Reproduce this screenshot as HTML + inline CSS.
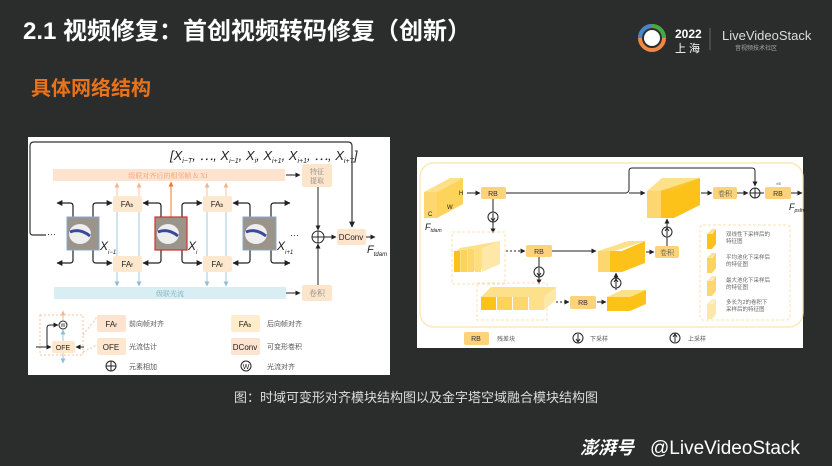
<!DOCTYPE html>
<html><head><meta charset="utf-8"><style>
html,body{margin:0;padding:0;background:#2b2c2c;}
svg{display:block}
text{font-family:"Liberation Sans","Noto Sans CJK SC",sans-serif;}
.cj{font-family:"Noto Serif CJK SC","Noto Sans CJK SC",serif;}
</style></head><body>
<svg width="832" height="466" viewBox="0 0 832 466" xmlns="http://www.w3.org/2000/svg">
<defs>
<marker id="a" viewBox="0 0 10 10" refX="9" refY="5" markerWidth="5" markerHeight="5" orient="auto"><path d="M0,0L10,5L0,10z" fill="#222"/></marker>
<marker id="ao" viewBox="0 0 10 10" refX="9" refY="5" markerWidth="5" markerHeight="5" orient="auto"><path d="M0,0L10,5L0,10z" fill="#f8b48c"/></marker>
<marker id="ao2" viewBox="0 0 10 10" refX="9" refY="5" markerWidth="5" markerHeight="5" orient="auto"><path d="M0,0L10,5L0,10z" fill="#ee7a2a"/></marker>
<marker id="ab" viewBox="0 0 10 10" refX="9" refY="5" markerWidth="5" markerHeight="5" orient="auto"><path d="M0,0L10,5L0,10z" fill="#8cc0d8"/></marker>
</defs>
<rect width="832" height="466" fill="#2b2c2c"/>
<text x="23" y="39" font-size="24" font-weight="bold" fill="#fff">2.1 视频修复：首创视频转码修复（创新）</text>
<text x="31" y="95" font-size="20" font-weight="bold" fill="#e8731a">具体网络结构</text>
<!-- logo -->
<circle cx="652" cy="38" r="12" fill="none" stroke="#e84" stroke-width="4"/>
<path d="M652,26 A12,12 0 0 1 664,38" fill="none" stroke="#4a4" stroke-width="4"/>
<path d="M640,38 A12,12 0 0 1 652,26" fill="none" stroke="#48c" stroke-width="4"/>
<circle cx="652" cy="38" r="8" fill="#fff"/>
<text x="675" y="38" font-size="12" font-weight="bold" fill="#fff">2022</text>
<text x="675" y="52" font-size="11" fill="#fff">上 海</text>
<line x1="710" y1="28" x2="710" y2="50" stroke="#666"/>
<text x="722" y="40" font-size="13" fill="#ddd">LiveVideoStack</text>
<text x="735" y="50" font-size="6" fill="#aaa">音视频技术社区</text>

<!-- LEFT PANEL -->
<rect x="28" y="137" width="362" height="238" fill="#fff"/>
<path d="M46,235 L33,235 Q30,235 30,232 L30,146 Q30,142 34,142 L348,142 Q352,142 352,146 L352,227" fill="none" stroke="#333" stroke-width="1.2" marker-end="url(#a)"/>
<text x="170" y="160" font-size="13" font-style="italic" fill="#222" font-family="Liberation Serif,serif">[X<tspan font-size="7" dy="3">i−T</tspan><tspan dy="-3">, ⋯, X</tspan><tspan font-size="7" dy="3">i−1</tspan><tspan dy="-3">, X</tspan><tspan font-size="7" dy="3">i</tspan><tspan dy="-3">, X</tspan><tspan font-size="7" dy="3">i+1</tspan><tspan dy="-3">, X</tspan><tspan font-size="7" dy="3">i+1</tspan><tspan dy="-3">, ⋯, X</tspan><tspan font-size="7" dy="3">i+T</tspan><tspan dy="-3">]</tspan></text>
<rect x="53" y="169" width="232" height="12" fill="#fde3d0"/>
<text x="168" y="178" font-size="7" fill="#f0a070" text-anchor="middle" class="cj">级联对齐后的相邻帧 &amp; Xi</text>
<line x1="286" y1="175" x2="300" y2="175" stroke="#222" marker-end="url(#a)"/>
<rect x="302" y="164" width="30" height="23" rx="2" fill="#fde5cc"/>
<text x="317" y="174" font-size="7" fill="#888" text-anchor="middle" class="cj">特征</text>
<text x="317" y="183" font-size="7" fill="#888" text-anchor="middle" class="cj">提取</text>
<line x1="318" y1="187" x2="318" y2="230" stroke="#222" marker-end="url(#a)"/>
<rect x="54" y="287" width="232" height="12" fill="#d8eef3"/>
<text x="170" y="296" font-size="7" fill="#7ab" text-anchor="middle" class="cj">级联光流</text>
<line x1="286" y1="293" x2="300" y2="293" stroke="#222" marker-end="url(#a)"/>
<rect x="302" y="285" width="30" height="16" rx="2" fill="#fde5cc"/>
<text x="317" y="296" font-size="8" fill="#888" text-anchor="middle" class="cj">卷积</text>
<line x1="318" y1="285" x2="318" y2="244" stroke="#222" marker-end="url(#a)"/>
<circle cx="318" cy="237" r="6" fill="#fff" stroke="#222"/>
<path d="M312,237h12M318,231v12" stroke="#222"/>
<line x1="324" y1="237" x2="336" y2="237" stroke="#222" marker-end="url(#a)"/>
<rect x="337" y="229" width="29" height="16" rx="2" fill="#fde5cc"/>
<text x="351" y="240" font-size="8" fill="#222" text-anchor="middle">DConv</text>
<line x1="366" y1="237" x2="375" y2="237" stroke="#222" marker-end="url(#a)"/>
<text x="367" y="253" font-size="11" font-style="italic" fill="#222" font-family="Liberation Serif,serif">F<tspan font-size="6" dy="3">tdam</tspan></text>
<g stroke-width="1">
<line x1="117" y1="256" x2="117" y2="183" stroke="#f8c0a0" marker-end="url(#ao)"/>
<line x1="139" y1="256" x2="139" y2="183" stroke="#f8c0a0" marker-end="url(#ao)"/>
<line x1="207" y1="256" x2="207" y2="183" stroke="#f8c0a0" marker-end="url(#ao)"/>
<line x1="226" y1="256" x2="226" y2="183" stroke="#f8c0a0" marker-end="url(#ao)"/>
<line x1="171" y1="217" x2="171" y2="182" stroke="#ee7a2a" marker-end="url(#ao2)"/>
<line x1="117" y1="212" x2="117" y2="286" stroke="#9cc8dc" marker-end="url(#ab)"/>
<line x1="139" y1="212" x2="139" y2="286" stroke="#9cc8dc" marker-end="url(#ab)"/>
<line x1="207" y1="212" x2="207" y2="286" stroke="#9cc8dc" marker-end="url(#ab)"/>
<line x1="226" y1="212" x2="226" y2="286" stroke="#9cc8dc" marker-end="url(#ab)"/>
</g>
<g fill="#fde8cf">
<rect x="113" y="196" width="29" height="16" rx="2"/><rect x="203" y="196" width="29" height="16" rx="2"/>
<rect x="113" y="256" width="29" height="16" rx="2"/><rect x="203" y="256" width="29" height="16" rx="2"/>
</g>
<g font-size="8" fill="#222" text-anchor="middle">
<text x="127" y="207">FA<tspan font-size="5">b</tspan></text><text x="217" y="207">FA<tspan font-size="5">b</tspan></text>
<text x="127" y="267">FA<tspan font-size="5">f</tspan></text><text x="217" y="267">FA<tspan font-size="5">f</tspan></text>
</g>
<g fill="none" stroke="#222" stroke-width="1.2">
<path d="M73,217 V206 Q73,203 70,203 H57" marker-end="url(#a)"/>
<path d="M93,217 V206 Q93,203 96,203 H112" marker-end="url(#a)"/>
<path d="M161,217 V206 Q161,203 158,203 H143" marker-end="url(#a)"/>
<path d="M182,217 V206 Q182,203 185,203 H202" marker-end="url(#a)"/>
<path d="M250,217 V206 Q250,203 247,203 H233" marker-end="url(#a)"/>
<path d="M271,217 V206 Q271,203 274,203 H290" marker-end="url(#a)"/>
<path d="M73,250 V260 Q73,263 70,263 H57" marker-end="url(#a)"/>
<path d="M93,250 V260 Q93,263 96,263 H112" marker-end="url(#a)"/>
<path d="M161,250 V260 Q161,263 158,263 H143" marker-end="url(#a)"/>
<path d="M182,250 V260 Q182,263 185,263 H202" marker-end="url(#a)"/>
<path d="M250,250 V260 Q250,263 247,263 H233" marker-end="url(#a)"/>
<path d="M271,250 V260 Q271,263 274,263 H290" marker-end="url(#a)"/>
</g>
<g>
<rect x="67" y="217" width="32" height="33" fill="#9a948a" stroke="#8aa8d0"/>
<ellipse cx="80" cy="234" rx="11" ry="10" fill="#eee"/><path d="M70,232 Q80,228 90,236" stroke="#3a4a9a" stroke-width="3" fill="none"/>
<rect x="155" y="217" width="32" height="33" fill="#9a948a" stroke="#c33" stroke-width="1.2"/>
<ellipse cx="168" cy="234" rx="11" ry="10" fill="#eee"/><path d="M158,232 Q168,228 178,236" stroke="#3a4a9a" stroke-width="3" fill="none"/>
<rect x="243" y="217" width="33" height="33" fill="#9a948a" stroke="#8aa8d0"/>
<ellipse cx="256" cy="234" rx="11" ry="10" fill="#eee"/><path d="M246,232 Q256,228 266,236" stroke="#3a4a9a" stroke-width="3" fill="none"/>
</g>
<g font-size="12" font-style="italic" fill="#222" font-family="Liberation Serif,serif">
<text x="100" y="250">X<tspan font-size="6" dy="4">i−1</tspan></text>
<text x="188" y="250">X<tspan font-size="6" dy="4">i</tspan></text>
<text x="277" y="250">X<tspan font-size="6" dy="4">i+1</tspan></text>
</g>
<text x="47" y="237" font-size="9" fill="#222">···</text>
<text x="290" y="238" font-size="9" fill="#222">···</text>
<rect x="40" y="315" width="43" height="40" fill="none" stroke="#f8c0a0" stroke-dasharray="2,2"/>
<line x1="63" y1="320" x2="63" y2="311" stroke="#f8b48c" marker-end="url(#ao)"/>
<circle cx="63" cy="325" r="4" fill="#fff" stroke="#222"/><text x="63" y="327" font-size="5" text-anchor="middle" fill="#222">W</text>
<line x1="63" y1="341" x2="63" y2="330" stroke="#9cc8dc" marker-end="url(#ab)"/>
<line x1="63" y1="353" x2="63" y2="363" stroke="#9cc8dc" marker-end="url(#ab)"/>
<path d="M47,347 V328 Q47,325 50,325 H58" fill="none" stroke="#222" marker-end="url(#a)"/>
<line x1="36" y1="347" x2="51" y2="347" stroke="#222" marker-end="url(#a)"/>
<line x1="84" y1="347" x2="76" y2="347" stroke="#222" marker-end="url(#a)"/>
<rect x="52" y="341" width="23" height="12" rx="2" fill="#fde8cf"/>
<text x="63" y="350" font-size="7" text-anchor="middle" fill="#222">OFE</text>
<path d="M83,335 L97,317 M83,352 L97,345" stroke="#f8c0a0" stroke-dasharray="2,2"/>
<rect x="97" y="315" width="29" height="17" rx="2" fill="#fde3d0"/><text x="111" y="327" font-size="8" text-anchor="middle" fill="#222">FA<tspan font-size="5">f</tspan></text>
<rect x="97" y="338" width="29" height="17" rx="2" fill="#fde8cf"/><text x="111" y="350" font-size="8" text-anchor="middle" fill="#222">OFE</text>
<circle cx="111" cy="366" r="5" fill="#fff" stroke="#222"/><path d="M106,366h10M111,361v10" stroke="#222"/>
<rect x="231" y="315" width="29" height="17" rx="2" fill="#fdedc8"/><text x="245" y="327" font-size="8" text-anchor="middle" fill="#222">FA<tspan font-size="5">b</tspan></text>
<rect x="231" y="338" width="29" height="17" rx="2" fill="#fde3d0"/><text x="245" y="350" font-size="8" text-anchor="middle" fill="#222">DConv</text>
<circle cx="246" cy="366" r="5" fill="#fff" stroke="#222"/><text x="246" y="369" font-size="7" text-anchor="middle" fill="#222">W</text>
<g font-size="7" fill="#555" class="cj">
<text x="129" y="326">前向帧对齐</text><text x="129" y="349">光流估计</text><text x="129" y="369">元素相加</text>
<text x="267" y="326">后向帧对齐</text><text x="267" y="349">可变形卷积</text><text x="267" y="369">光流对齐</text>
</g>

<!-- RIGHT PANEL -->
<rect x="417" y="157" width="386" height="191" fill="#fff"/>
<rect x="420" y="163" width="383" height="164" rx="14" fill="none" stroke="#fde3b0" stroke-width="1.2"/>
<polygon points="424,192 437,192 463,178 450,178" fill="#fde08a"/>
<polygon points="437,192 463,178 463,204 437,218" fill="#fdd35a"/>
<rect x="424" y="192" width="13" height="26" fill="#fdd670"/>
<text x="428" y="216" font-size="6" fill="#222">C</text>
<text x="447" y="209" font-size="6" fill="#222">W</text>
<text x="459" y="195" font-size="6" fill="#222">H</text>
<text x="425" y="230" font-size="9" font-style="italic" fill="#222">F<tspan font-size="5" dy="2">tdam</tspan></text>
<line x1="467" y1="193" x2="480" y2="193" stroke="#222" marker-end="url(#a)"/>
<g fill="#fcd27a">
<rect x="481" y="187" width="25" height="12" rx="2"/>
<rect x="526" y="245" width="26" height="12" rx="2"/>
<rect x="570" y="296" width="26" height="13" rx="2"/>
<rect x="765" y="187" width="26" height="12" rx="2"/>
<rect x="713" y="187" width="24" height="12" rx="2"/>
<rect x="655" y="246" width="24" height="12" rx="2"/>
<rect x="464" y="332" width="25" height="13" rx="2"/>
</g>
<g font-size="7" fill="#333" text-anchor="middle">
<text x="493" y="196">RB</text><text x="539" y="254">RB</text><text x="583" y="305">RB</text><text x="778" y="196">RB</text><text x="476" y="341">RB</text>
</g>
<text x="725" y="196" font-size="7" fill="#555" text-anchor="middle" class="cj">卷积</text>
<text x="667" y="255" font-size="7" fill="#555" text-anchor="middle" class="cj">卷积</text>
<text x="776" y="185" font-size="4" fill="#333">×5</text>
<path d="M506,193 H626 Q628,193 629,190 V171 Q629,168 632,168 H752 Q755,168 755,171 V186" fill="none" stroke="#222" marker-end="url(#a)"/>
<line x1="629" y1="193" x2="645" y2="193" stroke="#222" marker-end="url(#a)"/>
<polygon points="647,191 700,191 700,178 662,178" fill="#fde08a"/>
<polygon points="660,191 700,178 700,205 660,218" fill="#fdc32a"/>
<rect x="647" y="191" width="14" height="27" fill="#fdd670"/>
<rect x="661" y="191" width="13" height="27" fill="#fdc21a"/>
<polygon points="674,191 700,178 700,205 674,218" fill="#fdc21a"/>
<line x1="701" y1="193" x2="712" y2="193" stroke="#222" marker-end="url(#a)"/>
<line x1="737" y1="193" x2="748" y2="193" stroke="#222" marker-end="url(#a)"/>
<circle cx="755" cy="193" r="5" fill="#fff" stroke="#222"/><path d="M750,193h10M755,188v10" stroke="#222"/>
<line x1="760" y1="193" x2="764" y2="193" stroke="#222"/>
<line x1="791" y1="193" x2="802" y2="193" stroke="#222" marker-end="url(#a)"/>
<text x="789" y="210" font-size="9" font-style="italic" fill="#222">F<tspan font-size="5" dy="2">psfm</tspan></text>
<line x1="493" y1="199" x2="493" y2="233" stroke="#222" marker-end="url(#a)"/>
<circle cx="493" cy="217" r="5" fill="#fff" stroke="#222"/><path d="M493,213v7M491,218l2,3 2,-3" stroke="#222" fill="none"/>
<rect x="452" y="232" width="53" height="52" fill="none" stroke="#fde0b0" stroke-dasharray="3,2"/>
<g>
<polygon points="454,253 460,248 500,241 500,264 470,272 454,272" fill="#fde08a"/>
<rect x="454" y="251" width="6" height="21" fill="#fdc21a"/>
<rect x="461" y="250" width="6" height="22" fill="#fdd35a"/>
<rect x="468" y="249" width="6" height="23" fill="#fdd670"/>
<rect x="475" y="248" width="6" height="24" fill="#fddf80"/>
<polygon points="482,248 500,241 500,264 482,272" fill="#fde8a8"/>
</g>
<line x1="506" y1="251" x2="525" y2="251" stroke="#222" stroke-dasharray="2,2" marker-end="url(#a)"/>
<line x1="552" y1="251" x2="596" y2="251" stroke="#222" marker-end="url(#a)"/>
<polygon points="598,251 615,251 645,241 628,241" fill="#fde08a"/>
<rect x="598" y="251" width="12" height="21" fill="#fdd670"/>
<rect x="610" y="251" width="12" height="21" fill="#fdc21a"/>
<polygon points="622,251 645,241 645,263 622,272" fill="#fdc21a"/>
<line x1="646" y1="252" x2="654" y2="252" stroke="#222" marker-end="url(#a)"/>
<line x1="667" y1="246" x2="667" y2="219" stroke="#222" marker-end="url(#a)"/>
<circle cx="667" cy="232" r="5" fill="#fff" stroke="#222"/><path d="M667,236v-7M665,231l2,-3 2,3" stroke="#222" fill="none"/>
<line x1="539" y1="257" x2="539" y2="284" stroke="#222" marker-end="url(#a)"/>
<circle cx="539" cy="272" r="5" fill="#fff" stroke="#222"/><path d="M539,268v7M537,273l2,3 2,-3" stroke="#222" fill="none"/>
<rect x="477" y="283" width="70" height="37" fill="none" stroke="#fde0b0" stroke-dasharray="3,2"/>
<polygon points="481,297 546,297 556,287 491,287" fill="#fde08a"/>
<rect x="481" y="297" width="15" height="13" fill="#fdc21a"/>
<rect x="497" y="297" width="15" height="13" fill="#fdd35a"/>
<rect x="513" y="297" width="15" height="13" fill="#fdd670"/>
<rect x="529" y="297" width="15" height="13" fill="#fde08a"/>
<polygon points="544,297 556,287 556,300 544,310" fill="#fde8a8"/>
<line x1="556" y1="302" x2="569" y2="302" stroke="#222" stroke-dasharray="2,2" marker-end="url(#a)"/>
<line x1="597" y1="302" x2="606" y2="302" stroke="#222" marker-end="url(#a)"/>
<polygon points="607,297 630,297 646,290 622,290" fill="#fde08a"/>
<rect x="607" y="297" width="23" height="14" fill="#fdc21a"/>
<polygon points="630,297 646,290 646,304 630,311" fill="#fdc21a"/>
<line x1="616" y1="290" x2="616" y2="273" stroke="#222" marker-end="url(#a)"/>
<circle cx="616" cy="283" r="5" fill="#fff" stroke="#222"/><path d="M616,287v-7M614,282l2,-3 2,3" stroke="#222" fill="none"/>
<rect x="700" y="225" width="90" height="95" rx="3" fill="none" stroke="#fde0b0" stroke-dasharray="3,2"/>
<g>
<polygon points="707,234 711,234 716,229 712,229" fill="#fde08a"/><rect x="707" y="234" width="5" height="15" fill="#fdc21a"/><polygon points="712,234 716,229 716,244 712,249" fill="#fdc21a"/>
<polygon points="707,258 711,258 716,253 712,253" fill="#fde08a"/><rect x="707" y="258" width="5" height="15" fill="#fdd35a"/><polygon points="712,258 716,253 716,268 712,273" fill="#fdd35a"/>
<polygon points="707,281 711,281 716,276 712,276" fill="#fde8a8"/><rect x="707" y="281" width="5" height="15" fill="#fdd670"/><polygon points="712,281 716,276 716,291 712,296" fill="#fdd670"/>
<polygon points="707,304 711,304 716,299 712,299" fill="#fdecc0"/><rect x="707" y="304" width="5" height="15" fill="#fde8a8"/><polygon points="712,304 716,299 716,314 712,319" fill="#fde8a8"/>
</g>
<g font-size="5.5" fill="#666" class="cj">
<text x="726" y="236">双线性下采样后的</text><text x="726" y="243">特征图</text>
<text x="726" y="259">平均池化下采样后</text><text x="726" y="266">的特征图</text>
<text x="726" y="282">最大池化下采样后</text><text x="726" y="289">的特征图</text>
<text x="726" y="304">多长为2的卷积下</text><text x="726" y="311">采样后的特征图</text>
</g>
<g font-size="6" fill="#555" class="cj">
<text x="497" y="341">残差块</text><text x="590" y="341">下采样</text><text x="688" y="341">上采样</text>
</g>
<circle cx="578" cy="338" r="5" fill="#fff" stroke="#222"/><path d="M578,334v7M576,339l2,3 2,-3" stroke="#222" fill="none"/>
<circle cx="675" cy="338" r="5" fill="#fff" stroke="#222"/><path d="M675,342v-7M673,337l2,-3 2,3" stroke="#222" fill="none"/>

<text x="416" y="402" font-size="13" fill="#ddd" text-anchor="middle">图：时域可变形对齐模块结构图以及金字塔空域融合模块结构图</text>
<text x="580" y="454" font-size="18" font-weight="bold" font-style="italic" fill="#fff">澎湃号</text>
<text x="650" y="454" font-size="19" fill="#fff">@LiveVideoStack</text>
</svg>
</body></html>
